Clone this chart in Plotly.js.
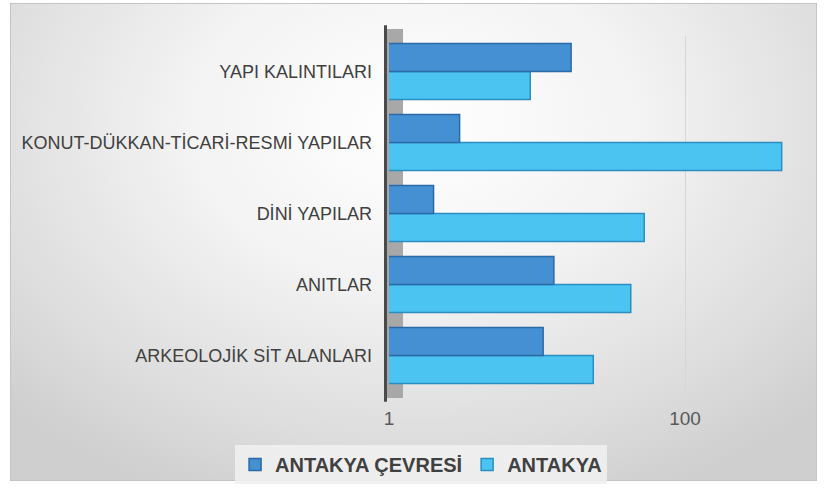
<!DOCTYPE html>
<html>
<head>
<meta charset="utf-8">
<script src="https://cdn.plot.ly/plotly-3.0.1.min.js"></script>
<style>
  html, body { margin: 0; padding: 0; background: #ffffff; width: 825px; height: 492px; overflow: hidden; }
  #frame {
    position: absolute; left: 10px; top: 3px; width: 807px; height: 478px;
    background: radial-gradient(ellipse 70% 85% at 50% 25%, #ffffff 0%, #f3f3f3 40%, #dcdcdc 80%, #cfcfcf 100%);
    border: 1px solid #c4c4c4;
    box-sizing: border-box;
  }
  #chart { position: absolute; left: 0; top: 0; width: 825px; height: 492px; }
</style>
</head>
<body>
<div id="frame"></div>
<div id="chart"></div>
<script>
// Categories (bottom to top)
const categories = [
  "ARKEOLOJİK SİT ALANLARI",
  "ANITLAR",
  "DİNİ YAPILAR",
  "KONUT-DÜKKAN-TİCARİ-RESMİ YAPILAR",
  "YAPI KALINTILARI"
];
// Series values
const antakyaCevresi = [11, 13, 2, 3, 17];
const antakya = [24, 43, 53, 450, 9];
// Tick labels
const xTickVals = [1, 100];
const xTickText = ["1", "100"];
const seriesNames = ["ANTAKYA ÇEVRESİ", "ANTAKYA"];

const traces = [
  {
    type: "bar", orientation: "h",
    name: seriesNames[1],
    y: categories, x: antakya,
    marker: { color: "#4cc4f2", line: { color: "#2b8dc2", width: 1.5 } },
    legendrank: 2,
    hoverinfo: "x+name"
  },
  {
    type: "bar", orientation: "h",
    name: seriesNames[0],
    y: categories, x: antakyaCevresi,
    marker: { color: "#4590d2", line: { color: "#2a6aa6", width: 1.5 } },
    legendrank: 1,
    hoverinfo: "x+name"
  }
];

const layout = {
  width: 825, height: 492,
  margin: { l: 389, r: 25, t: 36, b: 101, autoexpand: false },
  paper_bgcolor: "rgba(0,0,0,0)",
  plot_bgcolor: "rgba(0,0,0,0)",
  barmode: "group",
  bargap: 0.21,
  bargroupgap: 0,
  showlegend: true,
  legend: {
    orientation: "h",
    x: 0.078, xanchor: "center",
    y: -0.152, yanchor: "top",
    bgcolor: "rgba(240,240,240,0.9)",
    font: { family: "Liberation Sans, Arial, sans-serif", size: 20, color: "#404040", weight: "bold" },
    itemwidth: 30,
    traceorder: "normal"
  },
  xaxis: {
    type: "log",
    range: [0, 2.777],
    tickvals: xTickVals,
    ticktext: xTickText,
    showgrid: true,
    gridcolor: "#d6d6d6",
    gridwidth: 1,
    zeroline: false,
    showline: false,
    ticks: "",
    ticklabelstandoff: 14,
    tickfont: { family: "Liberation Sans Narrow, Arial Narrow, sans-serif", size: 19, color: "#5a5a5a" },
    fixedrange: true
  },
  yaxis: {
    type: "category",
    showgrid: false,
    zeroline: false,
    showline: false,
    ticks: "",
    ticklabelstandoff: 16,
    tickfont: { family: "Liberation Sans, Arial, sans-serif", size: 18, color: "#404040" },
    fixedrange: true
  },
  shapes: [
    {
      type: "rect", layer: "below",
      xref: "paper", yref: "paper",
      xsizemode: "pixel", xanchor: 0,
      x0: -3, x1: 14, y0: -0.02, y1: 1.02,
      fillcolor: "#a8a8a8", line: { width: 0 }
    },
    {
      type: "rect", layer: "above",
      xref: "paper", yref: "paper",
      xsizemode: "pixel", xanchor: 0,
      x0: -5, x1: -2, y0: -0.03, y1: 1.03,
      fillcolor: "#4a4a4a", line: { width: 0 }
    }
  ]
};

Plotly.newPlot("chart", traces, layout, { displayModeBar: false, staticPlot: true });
</script>
</body>
</html>
